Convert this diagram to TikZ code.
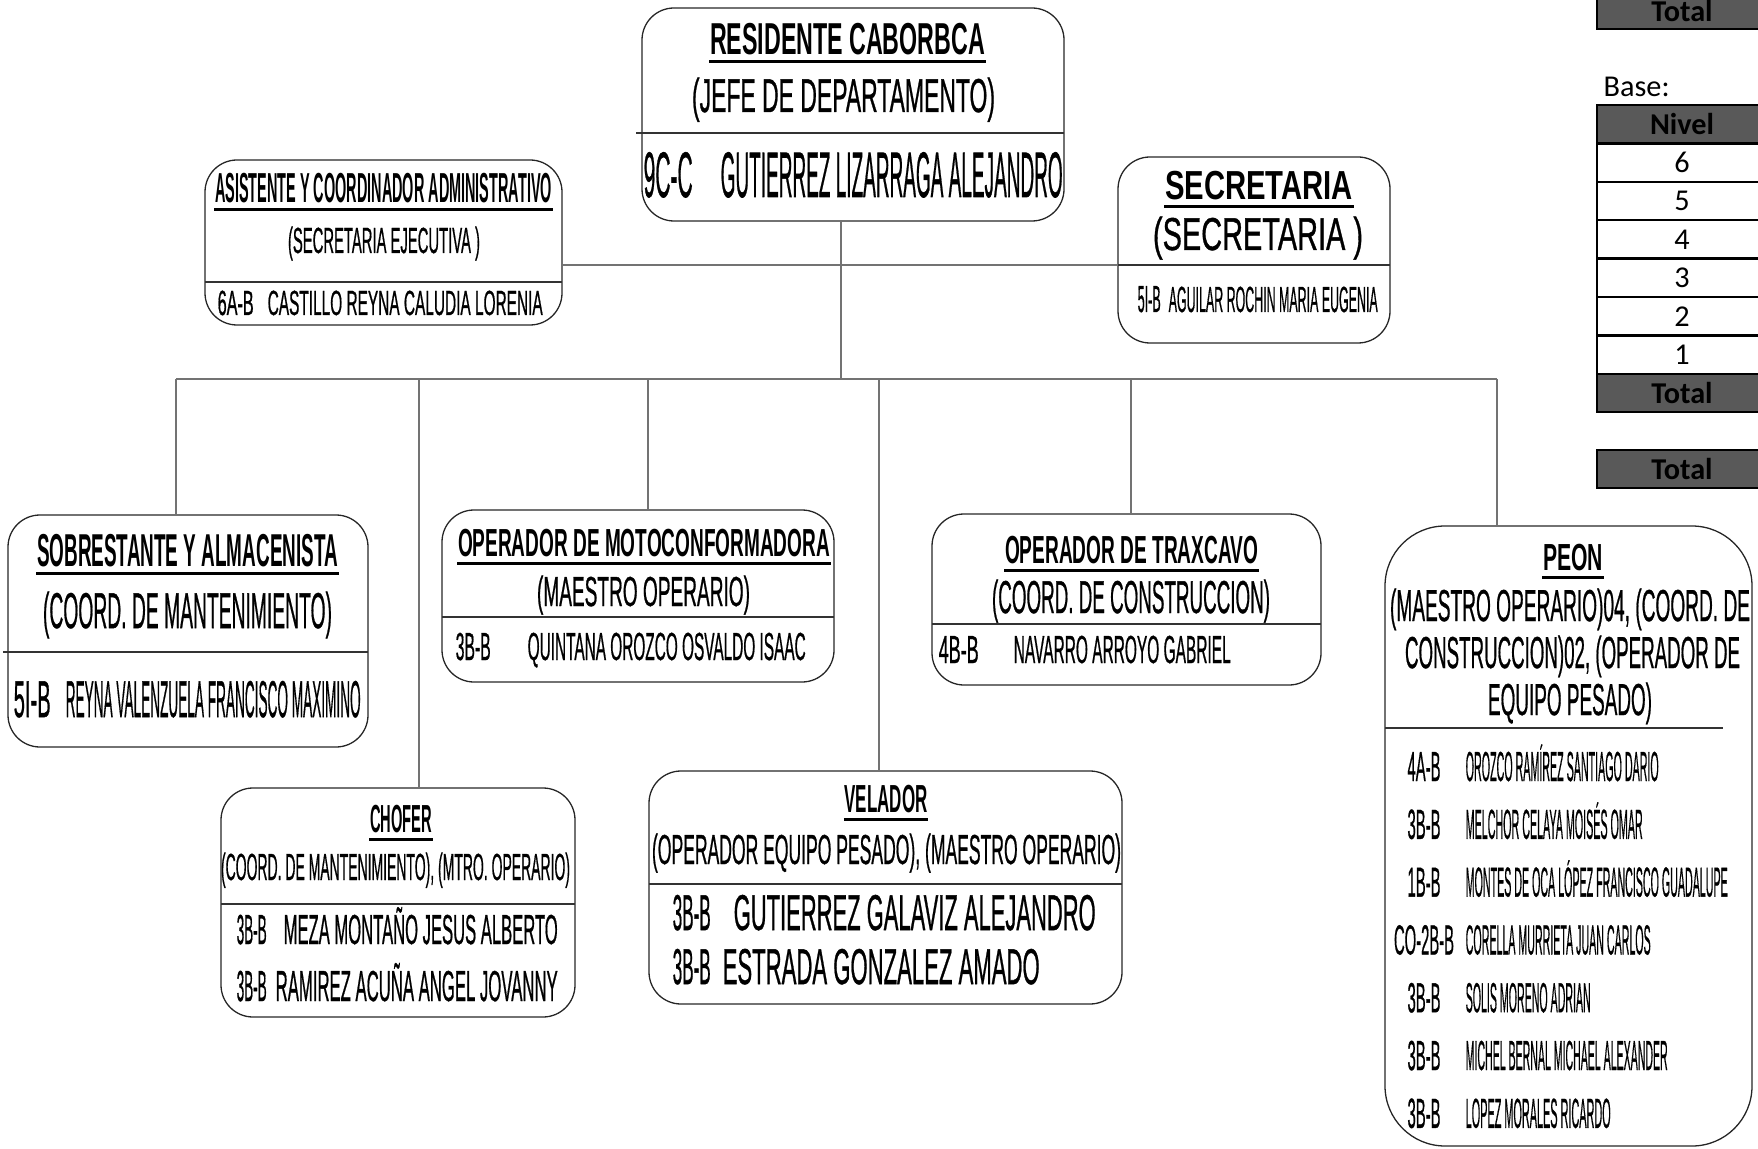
\documentclass[tikz,border=0pt]{standalone}
\usepackage{fontspec}
\usepackage{graphicx}
\setmainfont{Liberation Sans}[UprightFeatures={FakeBold=1}]
\newfontfamily\calib{Carlito}
\newlength\px
\setlength\px{0.01cm}
% schmale schrift: cap-hoehe, breite, text
\newcommand\sq[3]{{\fontsize{\fpeval{#1*0.3974}}{1}\selectfont\resizebox{#2\px}{\height}{#3}}}
\tikzset{
  puesto/.style={draw=black!85, line width=1.3\px, rounded corners=32\px, inner sep=0pt},
  linea/.style={draw=black!55, line width=1.3\px},
  raya/.style={draw=black!80, line width=1.3\px},
  subr/.style={draw=black, line width=3\px},
  txt/.style={inner sep=0pt, anchor=base},
  txtw/.style={inner sep=0pt, anchor=base west},
  celda/.style={draw=black, line width=2.5\px, minimum width=170\px, minimum height=38.4\px, inner sep=0pt, font=\calib\fontsize{8.6}{10}\selectfont},
  oscura/.style={celda, fill=black!65, font=\calib\fontsize{8.6}{10}\selectfont\bfseries},
}

\begin{document}
\begin{tikzpicture}[x=0.01cm, y=-0.01cm]
\useasboundingbox (0,0) rectangle (1758,1149);

% kaesten
\node[puesto, minimum width=422\px, minimum height=213\px] (RES) at (853,114.5) {};
\node[puesto, minimum width=357\px, minimum height=165\px] (ASI) at (383.5,242.5) {};
\node[puesto, minimum width=272\px, minimum height=186\px] (SEC) at (1254,250) {};
\node[puesto, minimum width=360\px, minimum height=232\px] (SOB) at (188,631) {};
\node[puesto, minimum width=392\px, minimum height=172\px] (MOT) at (638,596) {};
\node[puesto, minimum width=389\px, minimum height=171\px] (TRA) at (1126.5,599.5) {};
\node[puesto, minimum width=367\px, minimum height=620\px, rounded corners=60\px] (PEO) at (1568.5,836) {};
\node[puesto, minimum width=354\px, minimum height=229\px] (CHO) at (398,902.5) {};
\node[puesto, minimum width=473\px, minimum height=233\px] (VEL) at (885.5,887.5) {};

% trennlinien
\draw[raya] (636,133) -- (1064,133);
\draw[raya] (205,282) -- (562,282);
\draw[raya] (1118,265) -- (1390,265);
\draw[raya] (3,652) -- (368,652);
\draw[raya] (442,617) -- (834,617);
\draw[raya] (932,624) -- (1321,624);
\draw[raya] (1385,728) -- (1723,728);
\draw[raya] (221,904) -- (575,904);
\draw[raya] (649,884) -- (1122,884);

% verbindungen
\coordinate (ESP) at (841,379);
\coordinate (MED) at (841,265);
\coordinate (D1) at (176,379);
\coordinate (D2) at (419,379);
\coordinate (D3) at (648,379);
\coordinate (D4) at (879,379);
\coordinate (D5) at (1131,379);
\coordinate (D6) at (1497,379);
\draw[linea] (ESP |- RES.south) -- (ESP);
\draw[linea] (MED -| ASI.east) -- (MED -| SEC.west);
\draw[linea] (D1) -- (D6);
\foreach \d/\p in {D1/SOB, D2/CHO, D3/MOT, D4/VEL, D5/TRA, D6/PEO}
  \draw[linea] (\d) -- (\d |- \p.north);

% jefe
\node[txt] (RESt) at (847.5,55) {\sq{32}{275}{\bfseries RESIDENTE CABORBCA}};
\node[txt] (RESs) at (843.5,112) {\sq{34}{303}{(JEFE DE DEPARTAMENTO)}};
\node[txtw] (RESc) at (643,197) {\sq{46}{49}{9C-C}};
\node[txtw] (RESn) at (720,197) {\sq{46}{342}{GUTIERREZ LIZARRAGA ALEJANDRO}};

% asistente
\node[txt] (ASIt) at (383.5,203) {\sq{30}{337}{\bfseries ASISTENTE Y COORDINADOR ADMINISTRATIVO}};
\node[txt] (ASIs) at (384,253) {\sq{26}{192}{(SECRETARIA EJECUTIVA )}};
\node[txtw] (ASIc) at (217,315) {\sq{25}{36}{6A-B}};
\node[txtw] (ASIn) at (267,315) {\sq{25}{275}{CASTILLO REYNA CALUDIA LORENIA}};

% secretaria
\node[txt] (SECt) at (1259,200) {\sq{29}{188}{\bfseries SECRETARIA}};
\node[txt] (SECs) at (1258,250) {\sq{33}{210}{(SECRETARIA )}};
\node[txtw] (SECc) at (1137,312) {\sq{27}{23}{5I-B}};
\node[txtw] (SECn) at (1168,312) {\sq{26}{209}{AGUILAR ROCHIN MARIA EUGENIA}};

% sobrestante
\node[txt] (SOBt) at (187.5,566) {\sq{33}{301}{\bfseries SOBRESTANTE Y ALMACENISTA}};
\node[txt] (SOBs) at (187.5,628) {\sq{36}{289}{(COORD. DE MANTENIMIENTO)}};
\node[txtw] (SOBc) at (13,717) {\sq{37}{37}{5I-B}};
\node[txtw] (SOBn) at (65,717) {\sq{37}{295}{REYNA VALENZUELA FRANCISCO MAXIMINO}};

% motoconformadora
\node[txt] (MOTt) at (644,556) {\sq{28}{372}{\bfseries OPERADOR DE MOTOCONFORMADORA}};
\node[txt] (MOTs) at (643.5,606) {\sq{30}{213}{(MAESTRO OPERARIO)}};
\node[txtw] (MOTc) at (455,660) {\sq{28}{35}{3B-B}};
\node[txtw] (MOTn) at (527,660) {\sq{28}{278}{QUINTANA OROZCO OSVALDO ISAAC}};

% traxcavo
\node[txt] (TRAt) at (1131.5,563) {\sq{28}{253}{\bfseries OPERADOR DE TRAXCAVO}};
\node[txt] (TRAs) at (1131,613) {\sq{33}{278}{(COORD. DE CONSTRUCCION)}};
\node[txtw] (TRAc) at (938,663) {\sq{28}{40}{4B-B}};
\node[txtw] (TRAn) at (1013,663) {\sq{28}{217}{NAVARRO ARROYO GABRIEL}};

% peon
\node[txt] (PEOt) at (1573,570) {\sq{27}{60}{\bfseries PEON}};
\node[txt] (PEOs1) at (1570,621) {\sq{32}{360}{(MAESTRO OPERARIO)04, (COORD. DE}};
\node[txt] (PEOs2) at (1572.5,668) {\sq{32}{335}{CONSTRUCCION)02, (OPERADOR DE}};
\node[txt] (PEOs3) at (1570,715) {\sq{32}{164}{EQUIPO PESADO)}};
\foreach \c/\cw/\n/\nw [count=\i] in {4A-B/33/OROZCO RAMÍREZ SANTIAGO DARIO/193,
    3B-B/33/MELCHOR CELAYA MOISÉS OMAR/177,
    1B-B/33/MONTES DE OCA LÓPEZ FRANCISCO GUADALUPE/262,
    CO-2B-B/60/CORELLA MURRIETA JUAN CARLOS/185,
    3B-B/33/SOLIS MORENO ADRIAN/125,
    3B-B/33/MICHEL BERNAL MICHAEL ALEXANDER/202,
    3B-B/33/LOPEZ MORALES RICARDO/145} {
  \node[txt] (PEOc\i) at (1424,{723.2+57.8*\i}) {\sq{30}{\cw}{\c}};
  \node[txtw] (PEOn\i) at (1465,{723.2+57.8*\i}) {\sq{30}{\nw}{\n}};
}

% chofer
\node[txt] (CHOt) at (401,832) {\sq{28}{62}{\bfseries CHOFER}};
\node[txt] (CHOs) at (395.5,880) {\sq{27}{349}{(COORD. DE MANTENIMIENTO), (MTRO. OPERARIO)}};
\node[txtw] (CHOc1) at (236,944) {\sq{30}{30}{3B-B}};
\node[txtw] (CHOn1) at (283,944) {\sq{30}{274}{MEZA MONTAÑO JESUS ALBERTO}};
\node[txtw] (CHOc2) at (236,1001) {\sq{31}{30}{3B-B}};
\node[txtw] (CHOn2) at (275,1001) {\sq{31}{282}{RAMIREZ ACUÑA ANGEL JOVANNY}};

% velador
\node[txt] (VELt) at (886,812) {\sq{28}{83}{\bfseries VELADOR}};
\node[txt] (VELs) at (886.5,864) {\sq{30}{469}{(OPERADOR EQUIPO PESADO), (MAESTRO OPERARIO)}};
\node[txtw] (VELc1) at (672,930) {\sq{36}{38}{3B-B}};
\node[txtw] (VELn1) at (733,930) {\sq{36}{362}{GUTIERREZ GALAVIZ ALEJANDRO}};
\node[txtw] (VELc2) at (672,984) {\sq{36}{38}{3B-B}};
\node[txtw] (VELn2) at (722,984) {\sq{36}{317}{ESTRADA GONZALEZ AMADO}};

% unterstriche
\foreach \t in {RESt,ASIt,SECt,SOBt,MOTt,TRAt,PEOt,CHOt,VELt}
  \draw[subr] ([yshift=-7\px]\t.base west) -- ([yshift=-7\px]\t.base east);

% tabelle rechts
\node[oscura, minimum height=36\px] (TOT1) at (1682,11) {Total};
\node[txtw, font=\calib\fontsize{8.6}{10}\selectfont] (BASE) at (1603,97) {Base:};
\node[oscura] (NIVh) at (1682,124.2) {Nivel};
\foreach \n [count=\i] in {6,5,4,3,2,1}
  \node[celda] (NIV\n) at (1682,{124.2+38.4*\i}) {\n};
\node[oscura] (NIVt) at (1682,393) {Total};
\node[oscura] (TOT2) at (1682,469) {Total};

\end{tikzpicture}
\end{document}
